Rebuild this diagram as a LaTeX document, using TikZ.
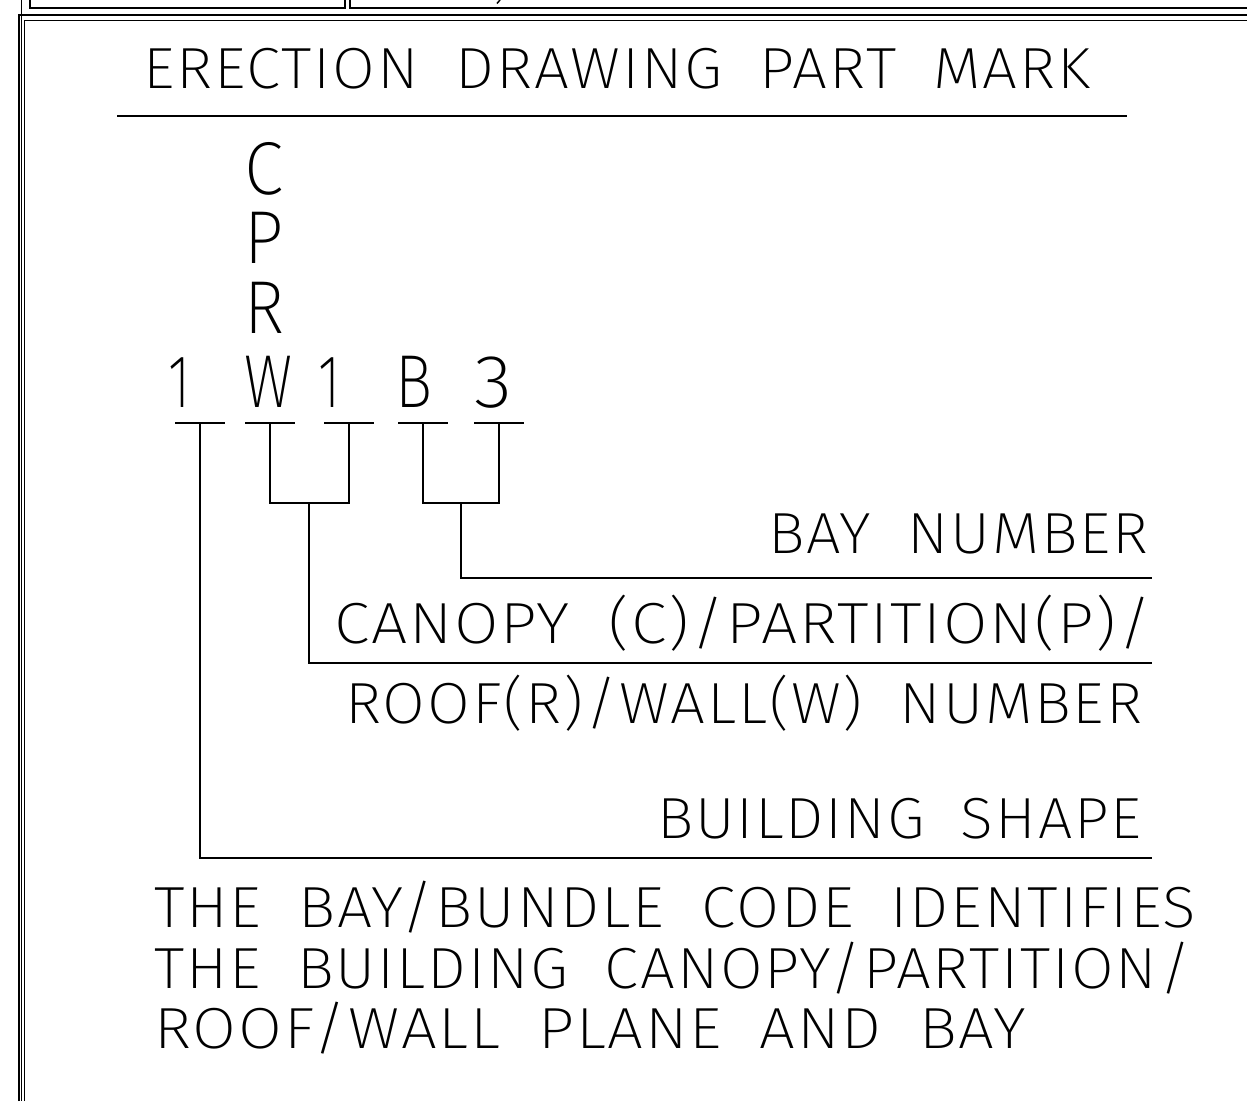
\documentclass[tikz,border=0pt]{standalone}
\usepackage{fontspec}
\usepackage{graphicx}
\newcommand{\cadsetfont}[1]{\setmainfont{#1}[LetterSpace=3,WordSpace=1.9]}
\IfFontExistsTF{Fira Sans ExtraLight}{\cadsetfont{Fira Sans ExtraLight}}{%
\IfFontExistsTF{Fira Sans Light}{\cadsetfont{Fira Sans Light}}{%
\IfFontExistsTF{FiraSans-ExtraLight}{\cadsetfont{FiraSans-ExtraLight}}{%
\IfFontExistsTF{FiraSans-Light}{\cadsetfont{FiraSans-Light}}{%
\IfFontExistsTF{DejaVu Sans ExtraLight}{\cadsetfont{DejaVu Sans ExtraLight}}{%
\IfFontExistsTF{Poppins ExtraLight}{\cadsetfont{Poppins ExtraLight}}{%
\IfFontExistsTF{Poppins Light}{\cadsetfont{Poppins Light}}{%
\IfFontExistsTF{Open Sans Light}{\cadsetfont{Open Sans Light}}{%
\IfFontExistsTF{Lato Light}{\cadsetfont{Lato Light}}{%
\cadsetfont{Fira Sans}}}}}}}}}}
\newcommand{\wtxt}[2]{\resizebox{#1pt}{\height}{#2}}
\newcommand{\smallcad}{\fontsize{58}{58}\selectfont}
\newcommand{\bigcad}{\fontsize{75}{75}\selectfont}
\tikzset{
  frame/.style={line width=1.8pt},
  wire/.style={line width=1.7pt},
  lbl/.style={inner sep=0pt, anchor=base west},
}
\begin{document}
\begin{tikzpicture}[x=1pt,y=-1pt]
\useasboundingbox (0,0) rectangle (1247,1101);
% frame
\draw[frame] (30,0) -- (30,8) -- (345,8) -- (345,0);
\draw[frame] (350,0) -- (350,8) -- (1247,8);
\draw[frame] (21.5,0) -- (21.5,1101);
\draw[frame] (19,1101) -- (19,15) -- (1247,15);
\draw[frame] (24.5,1101) -- (24.5,20.5) -- (1247,20.5);
\draw[line width=1.5pt] (500,0) -- (497,3.5);
% title
\node[lbl] (title) at (143,88) {\wtxt{947}{\smallcad ERECTION DRAWING PART MARK}};
\draw[wire] (117,116) -- (1127,116);
% stacked letters
\node[lbl] (lc) at (244,194) {\wtxt{39}{\bigcad C}};
\node[lbl] (lp) at (244,263) {\wtxt{39}{\bigcad P}};
\node[lbl] (lr) at (244,333) {\wtxt{40}{\bigcad R}};
% mark row
\node[lbl] (m1) at (168,407) {\wtxt{22}{\bigcad 1}};
\node[lbl] (mw) at (244,407) {\wtxt{48}{\bigcad W}};
\node[lbl] (m1b) at (318,407) {\wtxt{22}{\bigcad 1}};
\node[lbl] (mb) at (395,407) {\wtxt{37}{\bigcad B}};
\node[lbl] (m3) at (474,407) {\wtxt{38}{\bigcad 3}};
% T bars
\coordinate (t1) at (200,423);
\coordinate (tw) at (270,423);
\coordinate (t1b) at (349,423);
\coordinate (tb) at (423,423);
\coordinate (t3) at (499,423);
\foreach \c in {t1,tw,t1b,tb,t3}
  \draw[wire] ([xshift=-25pt]\c) -- ([xshift=25pt]\c);
% U shapes
\coordinate (uw) at (270,503);
\coordinate (u1b) at (349,503);
\coordinate (ub) at (423,503);
\coordinate (u3) at (499,503);
\draw[wire] (tw) -- (uw) -- (u1b) -- (t1b);
\draw[wire] (tb) -- (ub) -- (u3) -- (t3);
\coordinate (s1) at (309,503);
\coordinate (s2) at (461,503);
% leader lines
\coordinate (e1) at (1152,578);
\coordinate (e2) at (1152,663);
\coordinate (e3) at (1152,858);
\draw[wire] (s2) |- (e1);
\draw[wire] (s1) |- (e2);
\draw[wire] (t1) |- (e3);
% labels
\node[lbl] (bay) at (768,553) {\wtxt{380}{\smallcad BAY NUMBER}};
\node[lbl] (can) at (334,643) {\wtxt{818}{\smallcad CANOPY (C)/PARTITION(P)/}};
\node[lbl] (roof) at (345,723) {\wtxt{797}{\smallcad ROOF(R)/WALL(W) NUMBER}};
\node[lbl] (bld) at (657,838) {\wtxt{484}{\smallcad BUILDING SHAPE}};
% paragraph
\node[lbl] (p1) at (154,927) {\wtxt{1042}{\smallcad THE BAY/BUNDLE CODE IDENTIFIES}};
\node[lbl] (p2) at (154,988) {\wtxt{1037}{\smallcad THE BUILDING CANOPY/PARTITION/}};
\node[lbl] (p3) at (154,1048) {\wtxt{872}{\smallcad ROOF/WALL PLANE AND BAY}};
\end{tikzpicture}
\end{document}
